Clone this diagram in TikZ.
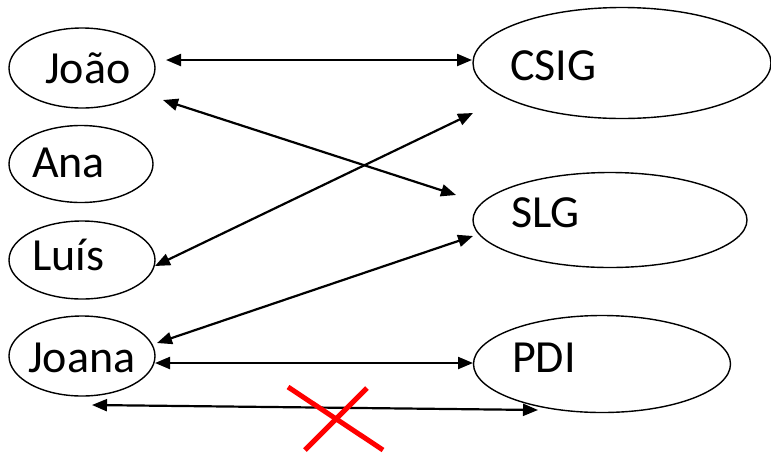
\documentclass[tikz,border=0pt]{standalone}
\usepackage{fontspec}
\setmainfont{Carlito}
\usetikzlibrary{shapes.geometric,arrows.meta}
\begin{document}
\begin{tikzpicture}[x=1pt,y=-1pt,
  oval/.style={draw,ellipse,line width=1.4pt,inner sep=0pt},
  lbl/.style={anchor=base west,inner sep=0pt,font=\fontsize{46}{55}\selectfont},
  link/.style={line width=2.2pt,{Triangle[length=15pt,width=12pt]}-{Triangle[length=15pt,width=12pt]}},
  cross/.style={red,line width=5pt}]
\useasboundingbox (0,0) rectangle (771,456);
% left ovals
\node[oval,minimum width=146pt,minimum height=80pt] (joao) at (82,68) {};
\node[oval,minimum width=144pt,minimum height=77pt] (ana) at (81,164) {};
\node[oval,minimum width=146pt,minimum height=78pt] (luis) at (82,260) {};
\node[oval,minimum width=146pt,minimum height=80pt] (joana) at (82,356) {};
% right ovals
\node[oval,minimum width=298pt,minimum height=111pt] (csig) at (622,63) {};
\node[oval,minimum width=274pt,minimum height=95pt] (slg) at (610,220) {};
\node[oval,minimum width=257pt,minimum height=97pt] (pdi) at (602,364) {};
% labels
\node[lbl] (tjoao) at (45,83) {João};
\node[lbl] (tana) at (32,177) {Ana};
\node[lbl] (tluis) at (32,270) {Luís};
\node[lbl] (tjoana) at (28,372) {Joana};
\node[lbl] (tcsig) at (510,80) {CSIG};
\node[lbl] (tslg) at (511,227) {SLG};
\node[lbl] (tpdi) at (512,372) {PDI};
% connector ends
\coordinate (a1) at (166,60);  \coordinate (b1) at (472,60);
\coordinate (a2) at (163,100); \coordinate (b2) at (456,195);
\coordinate (a3) at (155,266); \coordinate (b3) at (473,113);
\coordinate (a4) at (157,343); \coordinate (b4) at (473,236);
\coordinate (a5) at (155,363); \coordinate (b5) at (473,363);
\coordinate (a6) at (92,405);  \coordinate (b6) at (538,410);
\draw[link] (a1) -- (b1);
\draw[link] (a2) -- (b2);
\draw[link] (a3) -- (b3);
\draw[link] (a4) -- (b4);
\draw[link] (a5) -- (b5);
\draw[link] (a6) -- (b6);
% red cross
\coordinate (x1) at (288,387); \coordinate (x2) at (383,450);
\coordinate (x3) at (367,388); \coordinate (x4) at (305,450);
\draw[cross] (x1) -- (x2);
\draw[cross] (x3) -- (x4);
\end{tikzpicture}
\end{document}
